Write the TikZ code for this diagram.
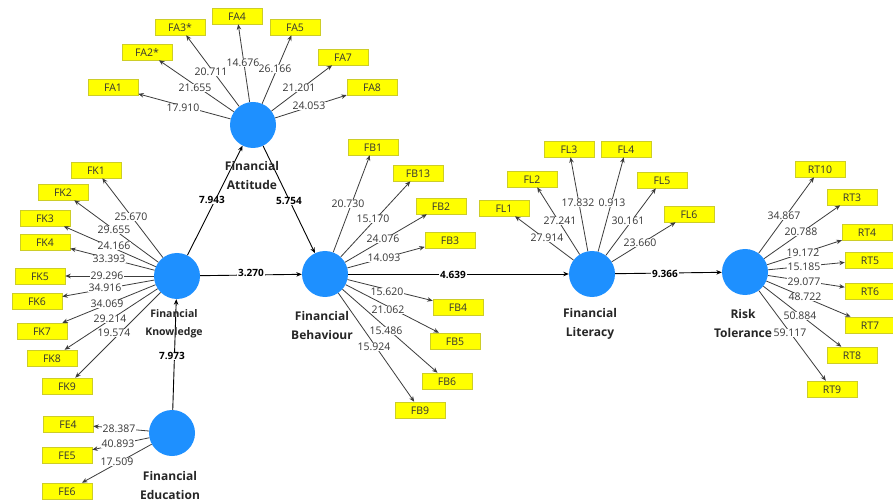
\documentclass[tikz,border=0pt]{standalone}
\usepackage{fontspec}
\setmainfont{Open Sans}
\usetikzlibrary{arrows.meta}
\definecolor{lvblue}{RGB}{30,144,255}
\definecolor{boxyel}{RGB}{255,255,0}
\definecolor{boxedge}{RGB}{205,205,40}
\definecolor{numgray}{RGB}{55,55,55}
\definecolor{linegray}{RGB}{60,60,60}
\begin{document}
\begin{tikzpicture}[x=1pt,y=-1pt,
 lv/.style={circle,fill=lvblue,minimum size=46pt,inner sep=0},
 lvname/.style={font=\bfseries\fontsize{12}{19}\selectfont,align=center,text=black!85,inner sep=0},
 ind/.style={rectangle,fill=boxyel,draw=boxedge,line width=0.5pt,minimum width=50pt,minimum height=16pt,inner sep=0,font=\fontsize{10.5}{12}\selectfont,text=black!80,text depth=0pt,text height=9pt},
 indarrow/.style={draw=linegray,line width=0.8pt,-{Stealth[length=5.5pt,width=4.5pt]}},
 patharrow/.style={draw=black,line width=0.9pt,-{Stealth[length=5.5pt,width=4.5pt]}},
 load/.style={fill=white,inner sep=0.5pt,font=\fontsize{10.5}{12}\selectfont,text=numgray},
 coef/.style={fill=white,inner sep=0.8pt,font=\bfseries\fontsize{10}{12}\selectfont,text=black}
]
\useasboundingbox[fill=white] (0,0) rectangle (893,502);

% latent variables
\node[lv] (FA) at (253,125) {};
\node[lv] (FK) at (177,276) {};
\node[lv] (FE) at (172,433) {};
\node[lv] (FB) at (325,274) {};
\node[lv] (FL) at (592,274) {};
\node[lv] (RT) at (745,272) {};

% indicator boxes
\node[ind] (FA1) at (113,87) {FA1};
\node[ind] (FA2) at (147,52) {FA2*};
\node[ind] (FA3) at (180,27) {FA3*};
\node[ind] (FA4) at (237,16) {FA4};
\node[ind] (FA5) at (295,27) {FA5};
\node[ind] (FA7) at (343,57) {FA7};
\node[ind] (FA8) at (372,87) {FA8};

\node[ind] (FK1) at (96,170) {FK1};
\node[ind] (FK2) at (63,192) {FK2};
\node[ind] (FK3) at (45,218) {FK3};
\node[ind] (FK4) at (45,242) {FK4};
\node[ind] (FK5) at (40,276) {FK5};
\node[ind] (FK6) at (37,301) {FK6};
\node[ind] (FK7) at (42,331) {FK7};
\node[ind] (FK8) at (52,358) {FK8};
\node[ind] (FK9) at (67,386) {FK9};

\node[ind] (FE4) at (68,424) {FE4};
\node[ind] (FE5) at (67,455) {FE5};
\node[ind] (FE6) at (67,491) {FE6};

\node[ind] (FB1) at (373,147) {FB1};
\node[ind] (FB13) at (418,173) {FB13};
\node[ind] (FB2) at (441,206) {FB2};
\node[ind] (FB3) at (450,240) {FB3};
\node[ind] (FB4) at (458,307) {FB4};
\node[ind] (FB5) at (455,341) {FB5};
\node[ind] (FB6) at (447,381) {FB6};
\node[ind] (FB9) at (420,410) {FB9};

\node[ind] (FL1) at (504,208) {FL1};
\node[ind] (FL2) at (532,179) {FL2};
\node[ind] (FL3) at (569,149) {FL3};
\node[ind] (FL4) at (626,149) {FL4};
\node[ind] (FL5) at (662,180) {FL5};
\node[ind] (FL6) at (689,214) {FL6};

\node[ind] (RT10) at (820,169) {RT10};
\node[ind] (RT3) at (852,197) {RT3};
\node[ind] (RT4) at (867,232) {RT4};
\node[ind] (RT5) at (870,260) {RT5};
\node[ind] (RT6) at (870,291) {RT6};
\node[ind] (RT7) at (870,325) {RT7};
\node[ind] (RT8) at (852,355) {RT8};
\node[ind] (RT9) at (832,389) {RT9};

% indicator arrows
\foreach \t in {FA1,FA2,FA3,FA4,FA5,FA7,FA8} \draw[indarrow] (FA) -- (\t);
\foreach \t in {FK1,FK2,FK3,FK4,FK5,FK6,FK7,FK8,FK9} \draw[indarrow] (FK) -- (\t);
\foreach \t in {FE4,FE5,FE6} \draw[indarrow] (FE) -- (\t);
\foreach \t in {FB1,FB13,FB2,FB3,FB4,FB5,FB6,FB9} \draw[indarrow] (FB) -- (\t);
\foreach \t in {FL1,FL2,FL3,FL4,FL5,FL6} \draw[indarrow] (FL) -- (\t);
\foreach \t in {RT10,RT3,RT4,RT5,RT6,RT7,RT8,RT9} \draw[indarrow] (RT) -- (\t);

% structural arrows
\draw[patharrow] (FK) -- (FA);
\draw[patharrow] (FA) -- (FB);
\draw[patharrow] (FK) -- (FB);
\draw[patharrow] (FE) -- (FK);
\draw[patharrow] (FB) -- (FL);
\draw[patharrow] (FL) -- (RT);

% loadings
\node[load] (lFA1) at (183,108) {17.910};
\node[load] (lFA2) at (195,88) {21.655};
\node[load] (lFA3) at (211,72) {20.711};
\node[load] (lFA4) at (243,63) {14.676};
\node[load] (lFA5) at (275,69) {26.166};
\node[load] (lFA7) at (299,88) {21.201};
\node[load] (lFA8) at (309,106) {24.053};

\node[load] (lFK1) at (131,217) {25.670};
\node[load] (lFK2) at (114,230) {29.655};
\node[load] (lFK3) at (114,246) {24.166};
\node[load] (lFK5) at (107,276) {29.296};
\node[load] (lFK4) at (109,259) {33.393};
\node[load] (lFK6) at (105,288) {34.916};
\node[load] (lFK7) at (107,304) {34.069};
\node[load] (lFK8) at (110,319) {29.214};
\node[load] (lFK9) at (114,333) {19.574};

\node[load] (lFE4) at (119,429) {28.387};
\node[load] (lFE5) at (118,444) {40.893};
\node[load] (lFE6) at (117,462) {17.509};

\node[load] (lFB1) at (348,204) {20.730};
\node[load] (lFB13) at (373,219) {15.170};
\node[load] (lFB2) at (383,239) {24.076};
\node[load] (lFB3) at (384,258) {14.093};
\node[load] (lFB4) at (387,292) {15.620};
\node[load] (lFB5) at (388,310) {21.062};
\node[load] (lFB6) at (386,331) {15.486};
\node[load] (lFB9) at (374,347) {15.924};

\node[load] (lFL1) at (547,238) {27.914};
\node[load] (lFL2) at (560,221) {27.241};
\node[load] (lFL3) at (578,203) {17.832};
\node[load] (lFL4) at (612,203) {0.913};
\node[load] (lFL5) at (628,221) {30.161};
\node[load] (lFL6) at (640,243) {23.660};

\node[load] (lRT10) at (784,216) {34.867};
\node[load] (lRT3) at (801,232) {20.788};
\node[load] (lRT4) at (803,253) {19.172};
\node[load] (lRT5) at (804,267) {15.185};
\node[load] (lRT6) at (804,282) {29.077};
\node[load] (lRT7) at (805,297) {48.722};
\node[load] (lRT8) at (800,316) {50.884};
\node[load] (lRT9) at (790,333) {59.117};

% path coefficients
\node[coef] (cKA) at (212,200) {7.943};
\node[coef] (cAB) at (289,201) {5.754};
\node[coef] (cKB) at (251,273) {3.270};
\node[coef] (cEK) at (172,356) {7.973};
\node[coef] (cBL) at (453,275) {4.639};
\node[coef] (cLR) at (665,274) {9.366};

% construct names
\node[lvname] (nFA) at (252,176) {Financial\\Attitude};
\node[lvname,font=\bfseries\fontsize{10.5}{18}\selectfont] (nFK) at (174,324) {Financial\\Knowledge};
\node[lvname] (nFE) at (170,485) {Financial\\Education};
\node[lvname] (nFB) at (322,325) {Financial\\Behaviour};
\node[lvname] (nFL) at (590,324) {Financial\\Literacy};
\node[lvname] (nRT) at (743,323) {Risk\\Tolerance};
\end{tikzpicture}
\end{document}
